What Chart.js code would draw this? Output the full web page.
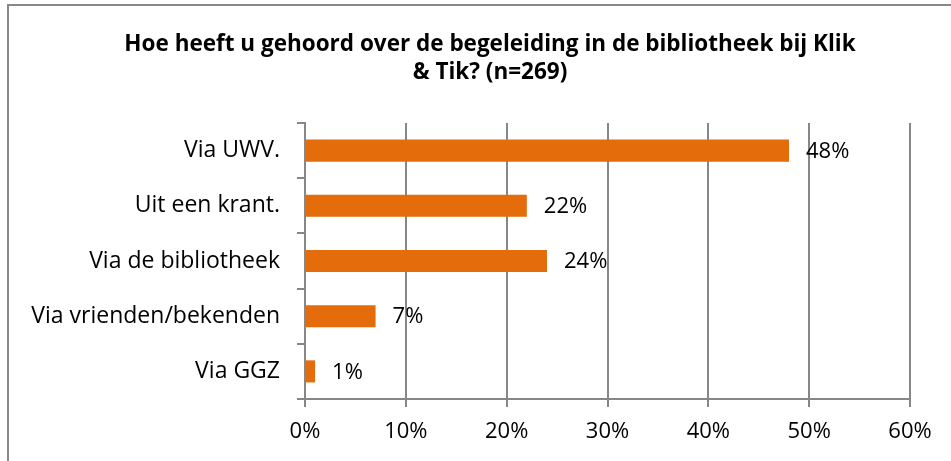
<!DOCTYPE html>
<html>
<head>
<meta charset="utf-8">
<script src="https://cdn.jsdelivr.net/npm/chart.js@4"></script>
<style>
  html, body { margin: 0; padding: 0; background: #fff; overflow: hidden; }
  #wrap { position: relative; width: 951px; height: 461px; }
  #frame { position: absolute; left: 7px; top: 4px; width: 960px; height: 480px;
           border: 2px solid #878787; box-sizing: border-box; pointer-events: none; }
  canvas { position: absolute; left: 0; top: 0; }
</style>
</head>
<body>
<div id="wrap">
  <canvas id="chart" width="951" height="461"></canvas>
  <div id="frame"></div>
</div>
<script>
// Data
const categories = ['Via UWV.', 'Uit een krant.', 'Via de bibliotheek', 'Via vrienden/bekenden', 'Via GGZ'];
const shares = [48, 22, 24, 7, 1];
const tickLabels = ['0%', '10%', '20%', '30%', '40%', '50%', '60%'];
const titleLines = ['Hoe heeft u gehoord over de begeleiding in de bibliotheek bij Klik', '& Tik? (n=269)'];

const FONT = '"Open Sans", Lato, sans-serif';
const ORANGE = '#E46C0A';
const GRID = '#878787';

// two-line title, centred a bit right of the canvas middle like the original
const titleBlock = {
  id: 'titleBlock',
  afterDraw(chart) {
    const ctx = chart.ctx;
    ctx.save();
    ctx.font = 'bold 22.5px ' + FONT;
    ctx.fillStyle = '#000';
    ctx.textAlign = 'center';
    ctx.textBaseline = 'middle';
    titleLines.forEach((line, i) => ctx.fillText(line, 490, 45 + i * 28));
    ctx.restore();
  },
};

// value labels to the right of each bar
const valueLabels = {
  id: 'valueLabels',
  afterDatasetsDraw(chart) {
    const ctx = chart.ctx;
    const meta = chart.getDatasetMeta(0);
    ctx.save();
    ctx.font = '22px ' + FONT;
    ctx.fillStyle = '#000';
    ctx.textAlign = 'left';
    ctx.textBaseline = 'middle';
    meta.data.forEach((bar, i) => {
      ctx.fillText(shares[i] + '%', bar.x + 17, bar.y + 1);
    });
    ctx.restore();
  },
};

new Chart(document.getElementById('chart').getContext('2d'), {
  type: 'bar',
  data: {
    labels: categories,
    datasets: [{
      data: shares,
      backgroundColor: ORANGE,
      borderWidth: 0,
      barPercentage: 0.4,
      categoryPercentage: 1,
    }],
  },
  options: {
    indexAxis: 'y',
    responsive: false,
    animation: false,
    layout: { padding: { left: 0, right: 41, top: 123, bottom: 0 } },
    plugins: {
      legend: { display: false },
      tooltip: { enabled: false },
      title: { display: false },
    },
    scales: {
      x: {
        min: 0,
        max: 60,
        ticks: {
          stepSize: 10,
          color: '#000',
          padding: 12,
          font: { family: FONT, size: 22 },
          callback: (v, i) => tickLabels[i],
        },
        grid: { color: GRID, lineWidth: 2, tickLength: 8 },
        border: { color: GRID, width: 2 },
        afterFit: (scale) => { scale.height = 62; },
      },
      y: {
        ticks: {
          color: '#000',
          padding: 17,
          font: { family: FONT, size: 23 },
        },
        grid: { color: GRID, lineWidth: 2, tickLength: 8, drawOnChartArea: false },
        border: { color: GRID, width: 2 },
        afterFit: (scale) => { scale.width = 305; },
      },
    },
  },
  plugins: [valueLabels, titleBlock],
});
</script>
</body>
</html>
